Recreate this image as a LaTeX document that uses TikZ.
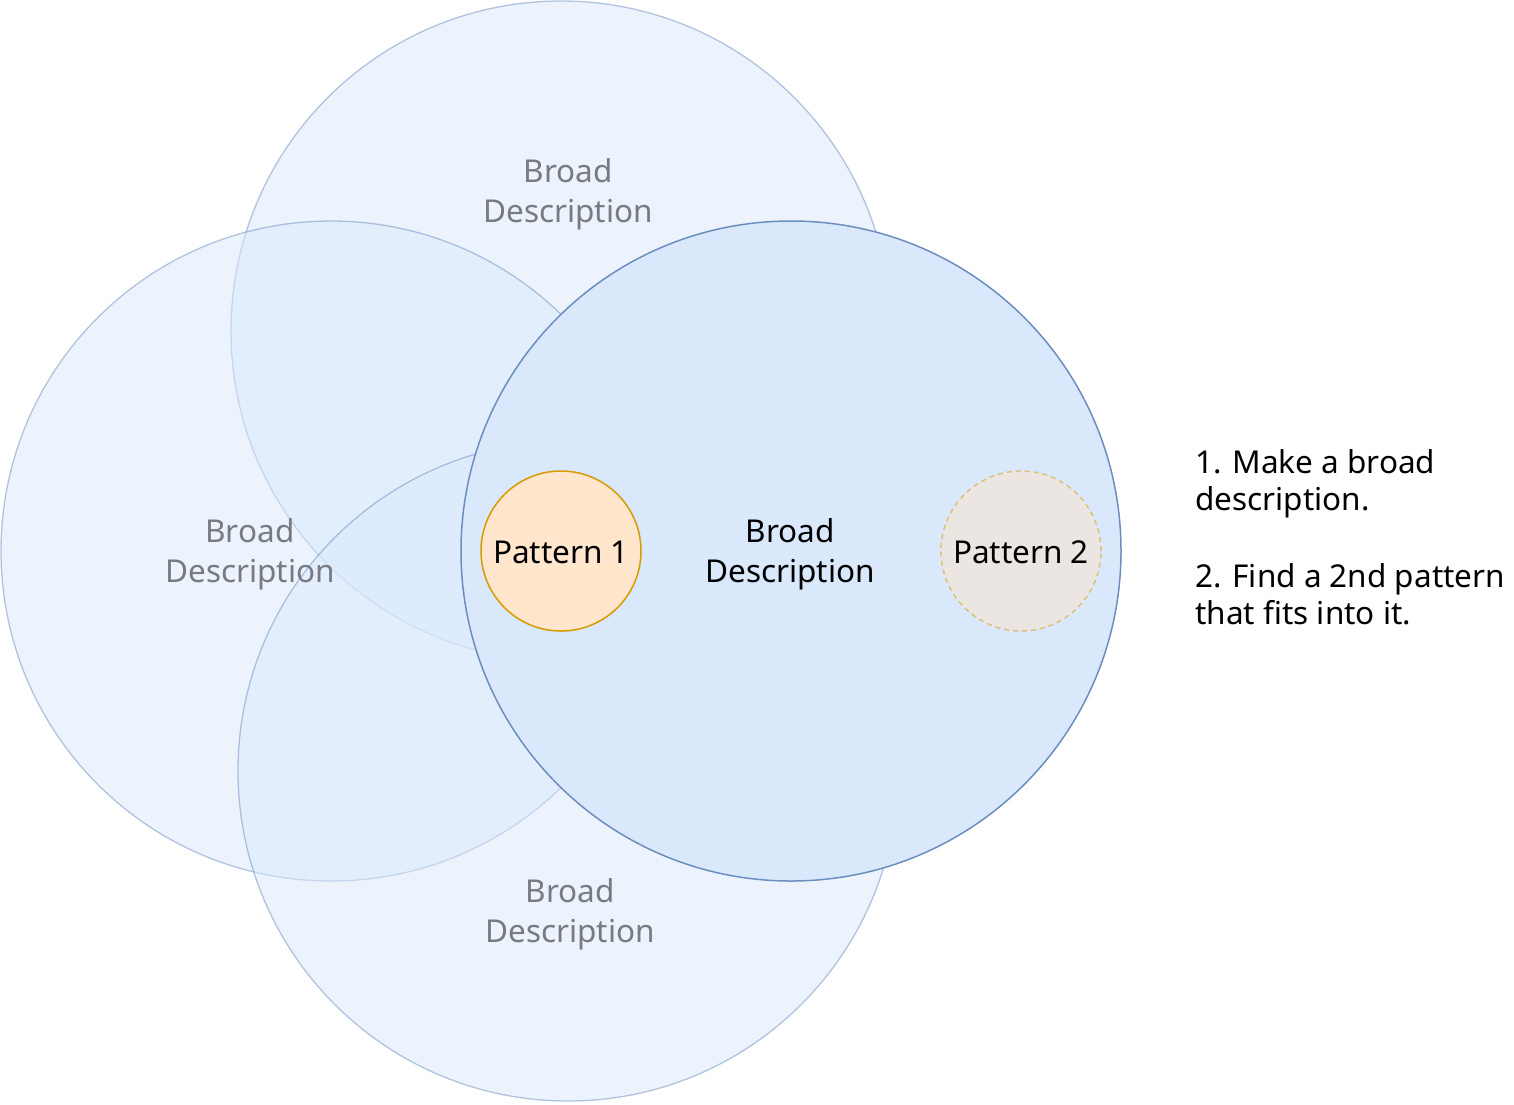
\documentclass[tikz,border=0pt]{standalone}
\usepackage{fontspec}
\setmainfont{Noto Sans}
\definecolor{bfill}{HTML}{DAE8FC}
\definecolor{bline}{HTML}{6C8EBF}
\definecolor{ofill}{HTML}{FFE6CC}
\definecolor{oline}{HTML}{D79B00}
\definecolor{gtext}{HTML}{777A80}
\begin{document}
\begin{tikzpicture}[x=1pt,y=-1pt,
  faded/.style={circle,minimum size=660pt,inner sep=0pt,fill=bfill,fill opacity=0.5,draw=bline,draw opacity=0.5,line width=1.3pt},
  mainc/.style={circle,minimum size=660pt,inner sep=0pt,fill=bfill,draw=bline,line width=1.5pt},
  pat/.style={circle,minimum size=160pt,inner sep=0pt,fill=ofill,draw=oline,line width=1.5pt},
  patdash/.style={circle,minimum size=160pt,inner sep=0pt,fill=ofill,fill opacity=0.5,draw=oline,draw opacity=0.5,dashed,dash pattern=on 5pt off 4pt,line width=1.5pt},
  lbl/.style={font=\fontsize{31.5}{40}\selectfont,align=center,inner sep=0pt,text=#1},
  note/.style={font=\fontsize{31.5}{37}\selectfont,align=left,inner sep=0pt,anchor=north west}]
\useasboundingbox (0,0) rectangle (1514,1104);
\node[faded] (top) at (561,331) {};
\node[faded] (left) at (331,551) {};
\node[faded] (bot) at (568,771) {};
\node[mainc] (main) at (791,551) {};
\node[pat] (p1) at (561,551) {};
\node[patdash] (p2) at (1021,551) {};
\node[lbl=gtext] (tl) at (568,194) {Broad\\Description};
\node[lbl=gtext] (ll) at (250,554) {Broad\\Description};
\node[lbl=gtext] (bl) at (570,914) {Broad\\Description};
\node[lbl=black] (ml) at (790,554) {Broad\\Description};
\node[lbl=black] (p1l) at (561,552) {Pattern 1};
\node[lbl=black] (p2l) at (1021,552) {Pattern 2};
\node[note] (n1) at (1195,449) {1. Make a broad\\description.\\[40pt]2. Find a 2nd pattern\\that fits into it.};
\end{tikzpicture}
\end{document}
